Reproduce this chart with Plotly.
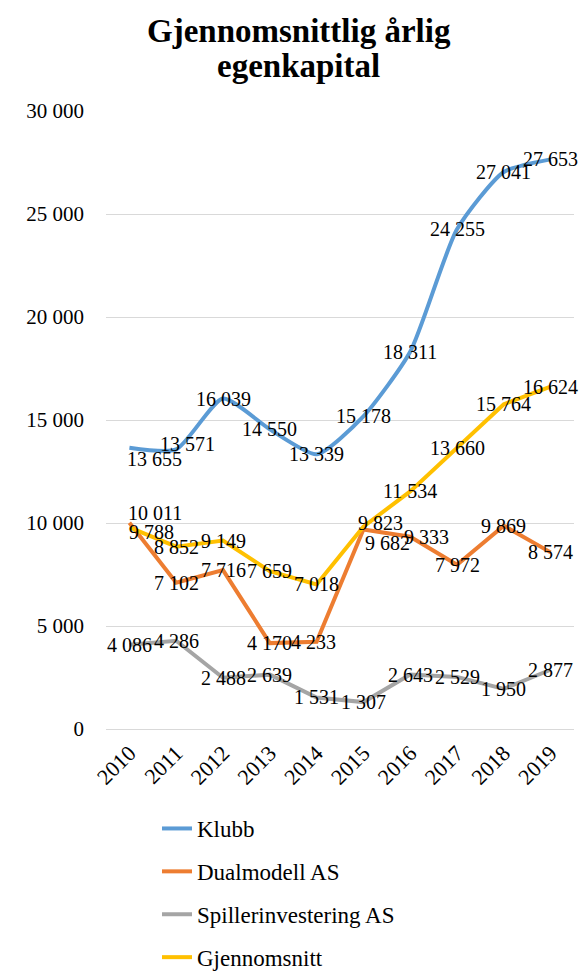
import plotly.graph_objects as go

years = ["2010", "2011", "2012", "2013", "2014", "2015", "2016", "2017", "2018", "2019"]
klubb = [13655, 13571, 16039, 14550, 13339, 15178, 18311, 24255, 27041, 27653]
dualmodell = [10011, 7102, 7716, 4170, 4233, 9682, 9333, 7972, 9869, 8574]
spiller = [4086, 4286, 2488, 2639, 1531, 1307, 2643, 2529, 1950, 2877]
snitt = [9788, 8852, 9149, 7659, 7018, 9823, 11534, 13660, 15764, 16624]

series = [
    ("Klubb", klubb, "#5B9BD5", "spline"),
    ("Dualmodell AS", dualmodell, "#ED7D31", "linear"),
    ("Spillerinvestering AS", spiller, "#A5A5A5", "linear"),
    ("Gjennomsnitt", snitt, "#FFC000", "linear"),
]

# label nudges in px (right, down) relative to the point
nudges = {
    "Klubb": [(25, 11), (11, -5)] + [(0, 0)] * 8,
    "Dualmodell AS": [(26, -10), (0, 0), (0, 0), (0, 0), (-3, 0), (24, 13), (16, 0), (0, 0), (0, 0), (0, 0)],
    "Spillerinvestering AS": [(0, 0)] * 10,
    "Gjennomsnitt": [(22, 5), (0, 0), (0, 0), (0, 0), (0, 0), (17, -4), (0, 0), (0, 0), (0, 0), (0, 0)],
}

FONT = "Times New Roman, Liberation Serif, serif"

fig = go.Figure()
for name, vals, color, shape in series:
    fig.add_trace(go.Scatter(
        x=years, y=vals, name=name, mode="lines",
        line=dict(color=color, width=4, shape=shape, smoothing=0.6),
        legendgroup=name,
    ))
    # category axis: annotations use the category's serial index
    for idx, (v, (dx, dy)) in enumerate(zip(vals, nudges[name])):
        fig.add_annotation(
            x=idx, y=v, xref="x", yref="y",
            text=f"{v:,}".replace(",", " "),
            showarrow=False, xanchor="center", yanchor="middle",
            xshift=dx, yshift=-dy,
            font=dict(family=FONT, size=20, color="#000000"),
        )

fig.add_annotation(
    text="<b>Gjennomsnittlig årlig</b>",
    xref="paper", yref="paper", x=0.412, y=1.1294,
    xanchor="center", yanchor="middle", showarrow=False,
    font=dict(family=FONT, size=33, color="#000000"),
)
fig.add_annotation(
    text="<b>egenkapital</b>",
    xref="paper", yref="paper", x=0.412, y=1.0722,
    xanchor="center", yanchor="middle", showarrow=False,
    font=dict(family=FONT, size=33, color="#000000"),
)

fig.update_layout(
    width=586, height=971,
    margin=dict(l=106, r=12, t=111, b=242),
    paper_bgcolor="white", plot_bgcolor="white",
    font=dict(family=FONT, color="#000000"),
    separators=", ",
    xaxis=dict(
        type="category", range=[-0.5, 9.5], tickangle=-45,
        showgrid=False, showline=False, zeroline=False, ticks="",
        tickfont=dict(family=FONT, size=22, color="#000000"),
        ticklabelstandoff=6, automargin=False,
    ),
    yaxis=dict(
        range=[0, 30000], dtick=5000, tickformat=",d",
        showgrid=True, gridcolor="#D9D9D9", gridwidth=1,
        zeroline=True, zerolinecolor="#D9D9D9", zerolinewidth=1,
        showline=False, ticks="", ticklabelstandoff=21,
        tickfont=dict(family=FONT, size=21, color="#000000"),
        automargin=False,
    ),
    legend=dict(
        orientation="v", x=0.109, xanchor="left",
        yref="container", y=1 - 807 / 971, yanchor="top",
        font=dict(family=FONT, size=23, color="#000000"),
        tracegroupgap=10, bgcolor="rgba(0,0,0,0)",
    ),
    showlegend=True,
)

fig.write_html("out.html")
